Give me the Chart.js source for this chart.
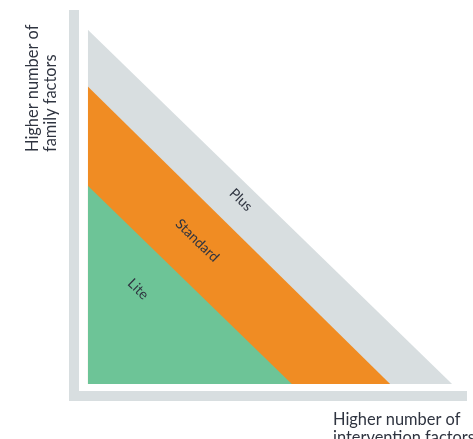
<!DOCTYPE html>
<html>
<head>
<meta charset="utf-8">
<script src="https://cdn.jsdelivr.net/npm/chart.js@4/dist/chart.umd.min.js"></script>
<style>
  html, body { margin: 0; padding: 0; background: #ffffff; }
  #wrap { width: 473px; height: 439px; position: relative; overflow: hidden; }
</style>
</head>
<body>
<div id="wrap"><canvas id="c" width="473" height="439"></canvas></div>
<script>
// ---- data ----
const tiers = ['Plus', 'Standard', 'Lite'];
const familyFactorsMax = [100, 84, 56];        // height of each tier on the family-factors axis
const interventionFactorsMax = [100, 83, 56];  // reach of each tier on the intervention-factors axis
const yAxisTitle = ['Higher number of', 'family factors'];
const xAxisTitle = ['Higher number of', 'intervention factors'];

// ---- styles ----
const tierColors = ['#d8dee0', '#f08c23', '#6dc497'];
const axisColor = '#d8dee0';
const textColor = '#2f3440';
const labelFont = '14px Lato, "Noto Sans", sans-serif';
const titleFont = '16.4px Lato, "Noto Sans", sans-serif';
// label anchors in data units (x: intervention, y: family)
const labelAnchors = [[42, 52], [30, 40.5], [13.8, 26.8]];

const datasets = tiers.map((t, i) => ({
  label: t,
  data: [{ x: 0, y: familyFactorsMax[i] }, { x: interventionFactorsMax[i], y: 0 }],
  backgroundColor: tierColors[i],
  borderColor: tierColors[i],
  borderWidth: 0,
  pointRadius: 0,
  fill: 'origin',
  tension: 0,
  order: tiers.length - i
}));

const overlay = {
  id: 'overlay',
  afterDatasetsDraw(chart) {
    const ctx = chart.ctx;
    const xs = chart.scales.x, ys = chart.scales.y;
    const ang = Math.atan2(ys.getPixelForValue(0) - ys.getPixelForValue(100),
                           xs.getPixelForValue(100) - xs.getPixelForValue(0));
    ctx.save();
    ctx.font = labelFont;
    ctx.fillStyle = textColor;
    ctx.textAlign = 'center';
    ctx.textBaseline = 'middle';
    tiers.forEach((t, i) => {
      const px = xs.getPixelForValue(labelAnchors[i][0]);
      const py = ys.getPixelForValue(labelAnchors[i][1]);
      ctx.save();
      ctx.translate(px, py);
      ctx.rotate(ang);
      ctx.fillText(t, 0, 0);
      ctx.restore();
    });
    ctx.restore();

    ctx.save();
    ctx.font = titleFont;
    ctx.fillStyle = textColor;
    ctx.textAlign = 'left';
    ctx.textBaseline = 'alphabetic';
    ctx.save();
    ctx.translate(38, 152);
    ctx.rotate(-Math.PI / 2);
    yAxisTitle.forEach((l, k) => ctx.fillText(l, 0, k * 18));
    ctx.restore();
    xAxisTitle.forEach((l, k) => ctx.fillText(l, 333, 425 + k * 18));
    ctx.restore();
  }
};

new Chart(document.getElementById('c'), {
  type: 'line',
  data: { datasets },
  options: {
    responsive: false,
    animation: false,
    events: [],
    layout: { padding: { left: 74, top: 15, right: 6, bottom: 43 } },
    plugins: { legend: { display: false }, tooltip: { enabled: false }, title: { display: false } },
    scales: {
      x: {
        type: 'linear', min: -3.8, max: 104.1,
        ticks: { display: false },
        grid: { display: true, color: 'rgba(0,0,0,0)', drawTicks: false, drawOnChartArea: false, lineWidth: 0 },
        border: { display: true, color: axisColor, width: 10 }
      },
      y: {
        type: 'linear', min: -3.4, max: 104.2,
        ticks: { display: false },
        grid: { display: true, color: 'rgba(0,0,0,0)', drawTicks: false, drawOnChartArea: false, lineWidth: 0 },
        border: { display: true, color: axisColor, width: 10 }
      }
    }
  },
  plugins: [overlay]
});
</script>
</body>
</html>
